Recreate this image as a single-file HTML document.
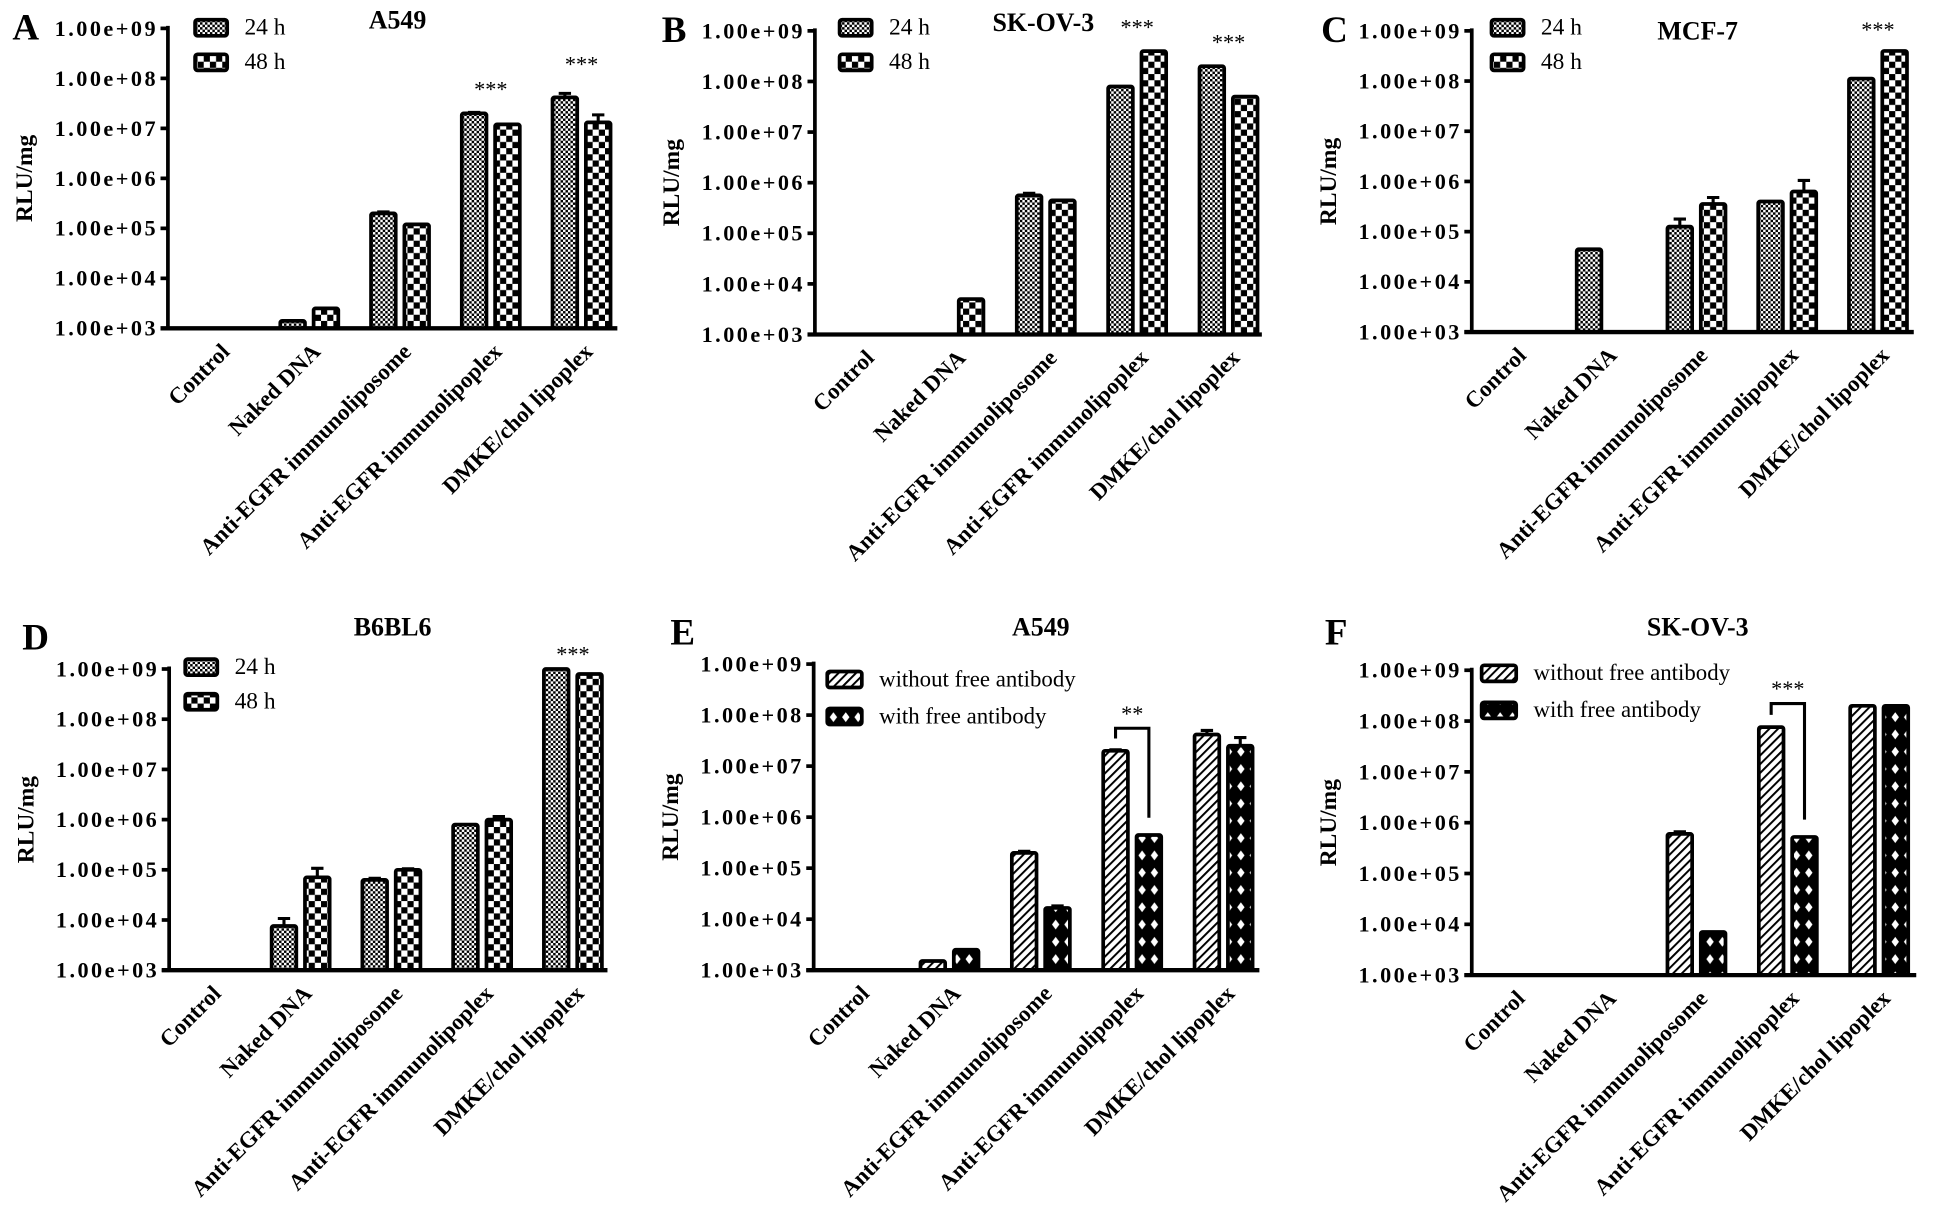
<!DOCTYPE html>
<html><head><meta charset="utf-8"><style>
html,body{margin:0;padding:0;background:#fff;}
svg{display:block;}
text{font-family:"Liberation Serif",serif;fill:#000;}
</style></head><body>
<svg id="fig" width="1936" height="1222" viewBox="0 0 1568 990" preserveAspectRatio="none" xmlns="http://www.w3.org/2000/svg">
<defs>
<pattern id="p24" patternUnits="userSpaceOnUse" width="4" height="4"><rect width="4" height="4" fill="#fff"/><rect width="2" height="2" fill="#000"/><rect x="2" y="2" width="2" height="2" fill="#000"/></pattern>
<pattern id="p48" patternUnits="userSpaceOnUse" width="10" height="10"><rect width="10" height="10" fill="#fff"/><rect width="5" height="5" fill="#000"/><rect x="5" y="5" width="5" height="5" fill="#000"/></pattern>
<pattern id="pwo" patternUnits="userSpaceOnUse" width="5" height="5" patternTransform="rotate(45)"><rect width="5" height="5" fill="#fff"/><rect width="1.6" height="5" fill="#000"/></pattern>
<pattern id="pwi" patternUnits="userSpaceOnUse" width="10" height="14"><rect width="10" height="14" fill="#000"/><polygon points="5,3 8,7 5,11 2,7" fill="#fff"/></pattern>
</defs>
<g id="root"></g>
</svg>
<script>
const categories = ["Control","Naked DNA","Anti-EGFR immunoliposome","Anti-EGFR immunolipoplex","DMKE/chol lipoplex"];
const tickLabels = ["1.00e+03","1.00e+04","1.00e+05","1.00e+06","1.00e+07","1.00e+08","1.00e+09"];
const tickExps = [3,4,5,6,7,8,9];
// values as log10(RLU/mg); null = no bar
const a24 = [null,3.15,5.30,7.30,7.62];
const a48 = [null,3.40,5.08,7.08,7.12];
const aErr24 = [0,0,0.03,0.02,0.08];
const aErr48 = [0,0,0,0,0.15];
const b24 = [null,null,5.75,7.90,8.30];
const b48 = [null,3.70,5.65,8.60,7.70];
const bErr24 = [0,0,0.04,0,0];
const bErr48 = [0,0,0,0,0];
const c24 = [null,4.65,5.10,5.60,8.05];
const c48 = [null,null,5.55,5.80,8.60];
const cErr24 = [0,0,0.15,0,0];
const cErr48 = [0,0,0.13,0.22,0];
const d24 = [null,3.88,4.80,5.90,9.00];
const d48 = [null,4.85,5.00,6.00,8.90];
const dErr24 = [0,0.15,0.03,0,0];
const dErr48 = [0,0.18,0.02,0.06,0];
const eWithout = [null,3.18,5.30,7.30,7.62];
const eWith = [null,3.40,4.22,5.65,7.40];
const eErrWithout = [0,0,0.03,0.02,0.08];
const eErrWith = [0,0,0.04,0,0.16];
const fWithout = [null,null,5.78,7.88,8.30];
const fWith = [null,null,3.85,5.72,8.30];
const fErrWithout = [0,0,0.04,0,0];
const fErrWith = [0,0,0,0,0];

const NS="http://www.w3.org/2000/svg";
const root=document.getElementById('root');
function mk(tag,attrs,parent){const e=document.createElementNS(NS,tag);for(const k in attrs)e.setAttribute(k,attrs[k]);(parent||root).appendChild(e);return e;}

const panels=[
 {id:'a',letter:'A',title:'A549',ax:136,top:23,bot:266,c0:177,step:73.5,end:500,lx:10,ly:32,tx:322,ty:22,s1:a24,s2:a48,e1:aErr24,e2:aErr48,f1:'url(#p24)',f2:'url(#p48)',leg:['24 h','48 h'],legX:158,legY:22,sig:[{g:3,t:'***',y:78},{g:4,t:'***',y:58}]},
 {id:'b',letter:'B',title:'SK-OV-3',ax:660,top:25,bot:271,c0:699,step:74,end:1022,lx:536,ly:34,tx:845,ty:24,s1:b24,s2:b48,e1:bErr24,e2:bErr48,f1:'url(#p24)',f2:'url(#p48)',leg:['24 h','48 h'],legX:680,legY:22,sig:[{g:3,t:'***',y:28},{g:4,t:'***',y:40}]},
 {id:'c',letter:'C',title:'MCF-7',ax:1192,top:25,bot:269,c0:1227,step:73.5,end:1550,lx:1070,ly:34,tx:1375,ty:31,s1:c24,s2:c48,e1:cErr24,e2:cErr48,f1:'url(#p24)',f2:'url(#p48)',leg:['24 h','48 h'],legX:1208,legY:22,sig:[{g:4,t:'***',y:30}]},
 {id:'d',letter:'D',title:'B6BL6',ax:137,top:542,bot:786,c0:170,step:73.5,end:492,lx:18,ly:526,tx:318,ty:514,s1:d24,s2:d48,e1:dErr24,e2:dErr48,f1:'url(#p24)',f2:'url(#p48)',leg:['24 h','48 h'],legX:150,legY:540,sig:[{g:4,t:'***',y:536}]},
 {id:'e',letter:'E',title:'A549',ax:659,top:538,bot:786,c0:695,step:74,end:1020,lx:543,ly:522,tx:843,ty:514,s1:eWithout,s2:eWith,e1:eErrWithout,e2:eErrWith,f1:'url(#pwo)',f2:'url(#pwi)',leg:['without free antibody','with free antibody'],legX:670,legY:550,bracket:{g:3,y:590,t:'**'}},
 {id:'f',letter:'F',title:'SK-OV-3',ax:1192,top:543,bot:790,c0:1226,step:74,end:1552,lx:1073,ly:522,tx:1375,ty:514,s1:fWithout,s2:fWith,e1:fErrWithout,e2:fErrWith,f1:'url(#pwo)',f2:'url(#pwi)',leg:['without free antibody','with free antibody'],legX:1200,legY:545,bracket:{g:3,y:570,t:'***'}}
];

panels.forEach(p=>{
  const g=mk('g',{});
  
  
  const y=v=>p.bot-(v-3)/6*(p.bot-p.top);
  const cx=i=>p.c0+i*p.step;
  const bw=20, gap=7;
  const L=mk('text',{x:p.lx,y:p.ly,'font-size':30,'font-weight':'bold'},g);L.textContent=p.letter;
  
  
  const T=mk('text',{x:p.tx,y:p.ty+1,'font-size':21,'font-weight':'bold','text-anchor':'middle'},g);T.textContent=p.title;
  
  
  const yt=mk('text',{x:0,y:0,'font-size':19,'font-weight':'bold','text-anchor':'middle',transform:`translate(${p.ax-110},${(p.top+p.bot)/2}) rotate(-90)`},g);yt.textContent='RLU/mg';
  
  
  tickExps.forEach((e,i)=>{
    const ty=y(e);
    const tl=mk('line',{x1:p.ax-6,x2:p.ax,y1:ty,y2:ty,stroke:'#000','stroke-width':3},g);
    
    
    const tt=mk('text',{x:p.ax-8,y:ty+6,'font-size':18,'font-weight':'bold','text-anchor':'end','letter-spacing':'2'},g);tt.textContent=tickLabels[i];
    
    
  });
  [[p.s1,p.e1,p.f1,-1],[p.s2,p.e2,p.f2,1]].forEach(([s,er,fill,side],si)=>{
    s.forEach((v,i)=>{
      if(v===null||v===undefined)return;
      const x0=side<0?cx(i)-gap/2-bw:cx(i)+gap/2;
      if(er[i]>0){
        const ey=y(v+er[i]);
        const el=mk('path',{d:`M${x0+bw/2},${y(v)}V${ey}M${x0+bw/2-5},${ey}H${x0+bw/2+5}`,stroke:'#000','stroke-width':2.5,fill:'none'},g);
        
        
      }
      const r=mk('rect',{x:x0,y:y(v),width:bw,height:p.bot-y(v),fill:fill,stroke:'#000','stroke-width':3,rx:1.5},g);
      
      
    });
  });
  const ya=mk('line',{x1:p.ax,x2:p.ax,y1:p.top-2,y2:p.bot+1.5,stroke:'#000','stroke-width':3},g);
  
  
  const xa=mk('line',{x1:p.ax-6,x2:p.end,y1:p.bot,y2:p.bot,stroke:'#000','stroke-width':3.5},g);
  
  
  categories.forEach((c,i)=>{
    const px=cx(i)+10, py=p.bot+20;
    const t=mk('text',{x:0,y:0,'font-size':18.5,'font-weight':'bold','text-anchor':'end',transform:`translate(${px},${py}) rotate(-45)`},g);t.textContent=c;
    
    
  });
  [p.f1,p.f2].forEach((f,i)=>{
    const ly=p.legY+i*(p.leg[0].length>5?30:28);
    const wide=p.leg[0].length>5;
    const lb=mk('rect',{x:p.legX,y:ly-6,width:wide?28:26,height:13,fill:f,stroke:'#000','stroke-width':3,rx:2},g);
    
    
    const lt=mk('text',{x:p.legX+(wide?42:40),y:ly+6,'font-size':wide?18.5:19},g);lt.textContent=p.leg[i];
    
    
  });
  (p.sig||[]).forEach(s=>{
    const st=mk('text',{x:cx(s.g),y:s.y,'font-size':18,'text-anchor':'middle'},g);st.textContent=s.t;
    
    
  });
  if(p.bracket){
    const b=p.bracket;
    const x1=cx(b.g)-gap/2-bw/2, x2=cx(b.g)+gap/2+bw/2;
    const br=mk('path',{d:`M${x1},${y(p.s1[b.g])-10}V${b.y}H${x2}V${y(p.s2[b.g])-14}`,stroke:'#000','stroke-width':2.5,fill:'none'},g);
    
    
    const bt=mk('text',{x:(x1+x2)/2,y:b.y-6,'font-size':18,'text-anchor':'middle'},g);bt.textContent=b.t;
    
    
  }
});
</script>
</body></html>
